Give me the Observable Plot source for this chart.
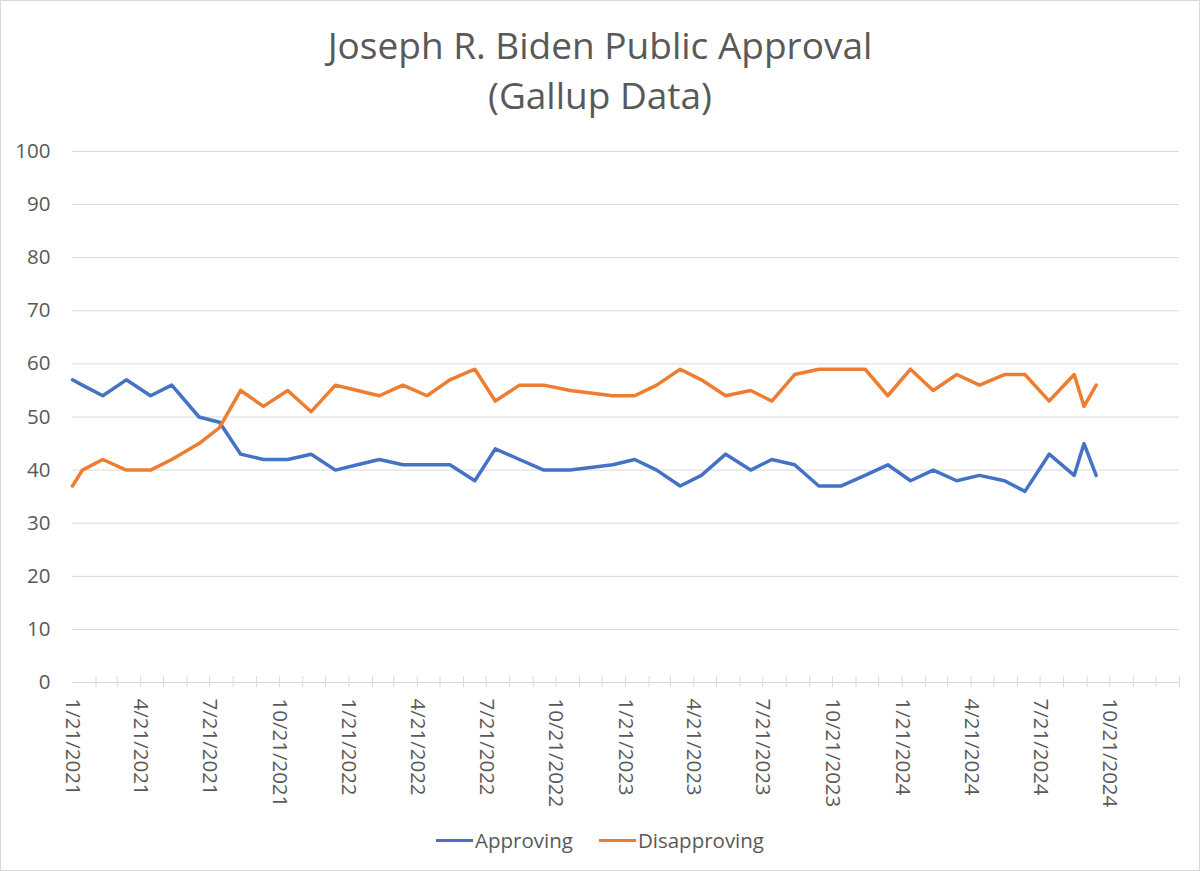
<!DOCTYPE html>
<html><head><meta charset="utf-8">
<script src="https://cdn.jsdelivr.net/npm/d3@7"></script>
<script src="https://cdn.jsdelivr.net/npm/@observablehq/plot@0.6"></script>
<style>
html,body{margin:0;padding:0;background:#fff;}
#chart{position:relative;width:1200px;height:871px;box-sizing:border-box;border:1px solid #d9d9d9;font-family:"Open Sans",sans-serif;color:#595959;overflow:hidden;background:#fff;}
#title{height:119px;padding-top:19px;box-sizing:border-box;text-align:center;font-size:37px;line-height:50px;}
#plot svg{display:block;}
#legend{display:flex;justify-content:center;align-items:center;gap:26px;height:40px;font-size:20.5px;}
.item{display:flex;align-items:center;}
.swatch{width:37px;height:3px;margin-right:2px;}
</style></head><body>
<div id="chart"><div id="title">Joseph R. Biden Public Approval<br>(Gallup Data)</div><div id="plot"></div><div id="legend"></div></div>
<script>
// Poll dates (Gallup field periods) and values
const dates = [
  "2021-01-21","2021-02-03","2021-03-02","2021-04-02","2021-05-04","2021-06-01","2021-07-07","2021-08-03",
  "2021-08-31","2021-09-30","2021-11-01","2021-12-02","2022-01-03","2022-02-01","2022-03-02","2022-04-02",
  "2022-05-04","2022-06-03","2022-07-06","2022-08-02","2022-09-03","2022-10-05","2022-11-09","2023-01-04",
  "2023-02-02","2023-03-03","2023-04-03","2023-05-01","2023-06-02","2023-07-05","2023-08-02","2023-09-01",
  "2023-10-03","2023-11-01","2023-12-03","2024-01-02","2024-02-01","2024-03-02","2024-04-02","2024-05-02",
  "2024-06-04","2024-07-01","2024-08-02","2024-09-04","2024-09-17","2024-10-03"
];
const approving = [
  57,56,54,57,54,56,50,49,
  43,42,42,43,40,41,42,41,
  41,41,38,44,42,40,40,41,
  42,40,37,39,43,40,42,41,
  37,37,39,41,38,40,38,39,
  38,36,43,39,45,39
];
const disapproving = [
  37,40,42,40,40,42,45,48,
  55,52,55,51,56,55,54,56,
  54,57,59,53,56,56,55,54,
  54,56,59,57,54,55,53,58,
  59,59,59,54,59,55,58,56,
  58,58,53,58,52,56
];
const seriesNames = ["Approving","Disapproving"];
const seriesColors = ["#4472C4","#ED7D31"];
const yTicks = [0,10,20,30,40,50,60,70,80,90,100];
const xStart = "2021-01-21", xEnd = "2025-01-21";
const tickLabels = [
  "1/21/2021","4/21/2021","7/21/2021","10/21/2021",
  "1/21/2022","4/21/2022","7/21/2022","10/21/2022",
  "1/21/2023","4/21/2023","7/21/2023","10/21/2023",
  "1/21/2024","4/21/2024","7/21/2024","10/21/2024"
];

const parseISO = d3.utcParse("%Y-%m-%d");
const parseUS = d3.utcParse("%m/%d/%Y");
const fmt = d => `${d.getUTCMonth()+1}/${d.getUTCDate()}/${d.getUTCFullYear()}`;

const data = [];
dates.forEach((d,i) => {
  data.push({date: parseISO(d), value: approving[i], series: seriesNames[0]});
  data.push({date: parseISO(d), value: disapproving[i], series: seriesNames[1]});
});
const labelTicks = tickLabels.map(parseUS);
const x0 = parseISO(xStart), x1 = parseISO(xEnd);
const monthTicks = d3.utcMonth.range(x0, x1).map(d => new Date(Date.UTC(d.getUTCFullYear(), d.getUTCMonth(), 21)));

const plot = Plot.plot({
  width: 1198,
  height: 700,
  marginLeft: 71,
  marginRight: 20,
  marginTop: 31,
  marginBottom: 138,
  style: {fontFamily: "'Open Sans', sans-serif", fontSize: "20px", color: "#595959", background: "#fff"},
  x: {type: "utc", domain: [x0, x1]},
  y: {domain: [0, 100]},
  color: {domain: seriesNames, range: seriesColors},
  marks: [
    Plot.gridY(yTicks, {stroke: "#d9d9d9", strokeOpacity: 1, strokeWidth: 1}),
    Plot.ruleX(monthTicks, {x: d => d, y1: 0, y2: 0, insetTop: -6, insetBottom: -5, stroke: "#d9d9d9", strokeWidth: 1}),
    Plot.axisY(yTicks, {tickSize: 0, tickPadding: 22, label: null, fill: "#595959", fontSize: 20.5}),
    Plot.axisX(labelTicks, {tickFormat: fmt, tickRotate: 90, tickSize: 0, tickPadding: 16, label: null, fill: "#595959", fontSize: 20.5}),
    Plot.line(data.filter(d => d.series === seriesNames[0]), {x: "date", y: "value", stroke: "series", strokeWidth: 3.5, strokeLinejoin: "round", strokeLinecap: "round"}),
    Plot.line(data.filter(d => d.series === seriesNames[1]), {x: "date", y: "value", stroke: "series", strokeWidth: 3.5, strokeLinejoin: "round", strokeLinecap: "round"})
  ]
});
document.getElementById("plot").appendChild(plot);

const legend = document.getElementById("legend");
seriesNames.forEach((name, i) => {
  const item = document.createElement("div");
  item.className = "item";
  const sw = document.createElement("span");
  sw.className = "swatch";
  sw.style.background = seriesColors[i];
  const t = document.createElement("span");
  t.textContent = name;
  item.appendChild(sw); item.appendChild(t);
  legend.appendChild(item);
});
</script>
</body></html>
